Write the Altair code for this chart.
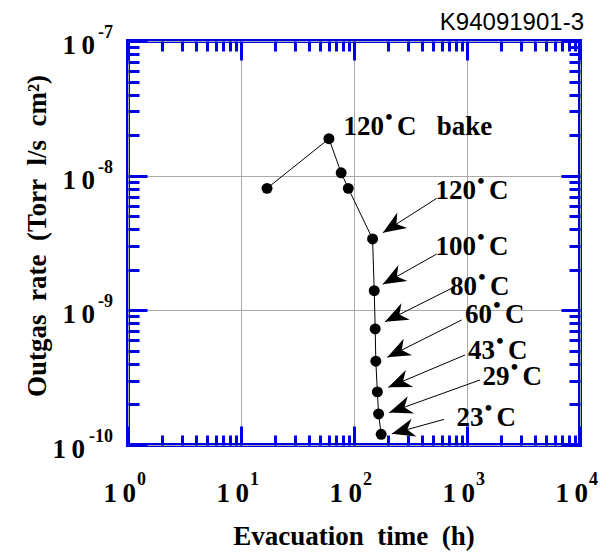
import math
import altair as alt
import pandas as pd

# ---------------- data ----------------
hours = [17, 60, 77, 89, 146, 151, 154, 156, 161, 165, 174]
rates = [8.05e-9, 1.88e-8, 1.05e-8, 8.05e-9, 3.39e-9, 1.40e-9,
         7.28e-10, 4.19e-10, 2.48e-10, 1.70e-10, 1.20e-10]

ann_num = ["120", "120", "100", "80", "60", "43", "29", "23"]
ann_rest = ["C\u00a0\u00a0\u00a0bake", "C", "C", "C", "C", "C", "C", "C"]
ann_x = [184, 1201, 1201, 1226, 1664, 1769, 2378, 1400]
ann_y = [2.0e-8, 6.71e-9, 2.58e-9, 1.30e-9, 8.01e-10, 4.35e-10, 2.79e-10, 1.39e-10]

arrow_x0 = [540, 540, 732, 898, 960, 1303, 626]
arrow_y0 = [6.79e-9, 2.62e-9, 1.458e-9, 8.48e-10, 4.66e-10, 3.04e-10, 1.55e-10]
arrow_x1 = [180, 180, 188, 197, 201, 205, 216]
arrow_y1 = [3.77e-9, 1.56e-9, 8.23e-10, 4.48e-10, 2.68e-10, 1.74e-10, 1.21e-10]

x_major = [1, 10, 100, 1000, 10000]
x_exp = ["0", "1", "2", "3", "4"]
y_major = [1e-7, 1e-8, 1e-9, 1e-10]
y_exp = ["-7", "-8", "-9", "-10"]
x_minor = [m * 10 ** k for k in range(4) for m in range(2, 10)]
y_minor = [m * 10.0 ** k for k in range(-10, -7) for m in range(2, 10)]
base_label = "1\u20090"

x_title = "Evacuation\u00a0\u00a0time\u00a0\u00a0(h)"
y_title = "Outgas\u00a0\u00a0rate\u00a0\u00a0(Torr\u00a0\u00a0l/s\u00a0\u00a0cm\u00b2)"
tag = "K94091901-3"

# ---------------- layout / style ----------------
W, H = 452, 404
BLUE = "#0000e6"
SERIF = "Liberation Serif"
XS = alt.Scale(type="log", domain=[1, 1e4], nice=False)
YS = alt.Scale(type="log", domain=[1e-10, 1e-7], nice=False)


def px(v):
    return W * math.log10(v) / 4


def py(v):
    return H * (-7 - math.log10(v)) / 3


angles = [
    (math.degrees(math.atan2(px(b) - px(a), -(py(d) - py(c)))) + 360) % 360
    for a, c, b, d in zip(arrow_x0, arrow_y0, arrow_x1, arrow_y1)
]

pts = pd.DataFrame({"h": hours, "r": rates})
ann = pd.DataFrame({"x": ann_x, "y": ann_y, "num": ann_num, "rest": ann_rest})
arr = pd.DataFrame({"x0": arrow_x0, "y0": arrow_y0, "x1": arrow_x1,
                    "y1": arrow_y1, "ang": angles})
xl = pd.DataFrame({"v": x_major, "e": x_exp, "b": [base_label] * 5})
yl = pd.DataFrame({"v": y_major, "e": y_exp, "b": [base_label] * 4})


def tick_axis(orient, offset, values, size):
    return alt.Axis(orient=orient, offset=offset, values=values, tickSize=size,
                    tickWidth=3, tickColor=BLUE, labels=False, domain=False,
                    grid=False, title="")


grid_x = alt.Axis(values=x_major, grid=True, gridColor="#aaaaaa", gridWidth=1,
                  ticks=False, labels=False, domain=False, title="")
grid_y = alt.Axis(values=y_major, grid=True, gridColor="#aaaaaa", gridWidth=1,
                  ticks=False, labels=False, domain=False, title="")

line = alt.Chart(pts).mark_line(color="black", strokeWidth=1).encode(
    x=alt.X("h:Q", scale=XS, axis=grid_x),
    y=alt.Y("r:Q", scale=YS, axis=grid_y),
)
points = alt.Chart(pts).mark_circle(color="black", size=120, opacity=1).encode(
    x=alt.X("h:Q", scale=XS, axis=tick_axis("top", -H, x_major, 19)),
    y=alt.Y("r:Q", scale=YS, axis=tick_axis("right", -W, y_major, 19)),
)
arrows = alt.Chart(arr).mark_rule(color="black", strokeWidth=1).encode(
    x=alt.X("x0:Q", scale=XS, axis=tick_axis("top", -H, x_minor, 10)),
    y=alt.Y("y0:Q", scale=YS, axis=tick_axis("right", -W, y_minor, 11)),
    x2="x1:Q",
    y2="y1:Q",
)
heads = alt.Chart(arr).mark_point(
    shape="M0,0 L0.4,1 L0,0.7 L-0.4,1 Z", filled=True, color="black",
    opacity=1, size=2116, strokeWidth=0,
).encode(
    x=alt.X("x1:Q", scale=XS, axis=tick_axis("bottom", -H, x_major, 19)),
    y=alt.Y("y1:Q", scale=YS, axis=tick_axis("left", -W, y_major, 19)),
    angle=alt.Angle("ang:Q", scale=None),
)
num_txt = alt.Chart(ann).mark_text(
    font=SERIF, fontWeight="bold", fontSize=27, align="right",
    baseline="alphabetic", color="black",
).encode(
    x=alt.X("x:Q", scale=XS, axis=tick_axis("bottom", -H, x_minor, 10)),
    y=alt.Y("y:Q", scale=YS, axis=tick_axis("left", -W, y_minor, 11)),
    text="num:N",
)
dot_txt = alt.Chart(ann).mark_text(
    font=SERIF, fontWeight="bold", fontSize=21, align="center",
    baseline="alphabetic", dx=5, dy=-11, color="black", text="\u2022",
).encode(
    x=alt.X("x:Q", scale=XS, axis=None),
    y=alt.Y("y:Q", scale=YS, axis=None),
)
rest_txt = alt.Chart(ann).mark_text(
    font=SERIF, fontWeight="bold", fontSize=27, align="left",
    baseline="alphabetic", dx=13, color="black",
).encode(
    x=alt.X("x:Q", scale=XS, axis=None),
    y=alt.Y("y:Q", scale=YS, axis=None),
    text="rest:N",
)

# tick labels
xb = alt.Chart(xl).mark_text(font=SERIF, fontWeight="bold", fontSize=27,
                             align="right", baseline="alphabetic", dx=8,
                             color="black").encode(
    x=alt.X("v:Q", scale=XS, axis=None), y=alt.value(H + 57), text="b:N")
xs = alt.Chart(xl).mark_text(font=SERIF, fontWeight="bold", fontSize=18,
                             align="left", baseline="alphabetic", dx=9,
                             color="black").encode(
    x=alt.X("v:Q", scale=XS, axis=None), y=alt.value(H + 40), text="e:N")
yb1 = alt.Chart(yl.iloc[:3]).mark_text(font=SERIF, fontWeight="bold", fontSize=27,
                                       align="right", baseline="alphabetic", dy=13,
                                       color="black").encode(
    x=alt.value(-33), y=alt.Y("v:Q", scale=YS, axis=None), text="b:N")
yb2 = alt.Chart(yl.iloc[3:]).mark_text(font=SERIF, fontWeight="bold", fontSize=27,
                                       align="right", baseline="alphabetic", dy=13,
                                       color="black").encode(
    x=alt.value(-43), y=alt.Y("v:Q", scale=YS, axis=None), text="b:N")
ys = alt.Chart(yl).mark_text(font=SERIF, fontWeight="bold", fontSize=18,
                             align="right", baseline="alphabetic", dy=-3,
                             color="black").encode(
    x=alt.value(-15), y=alt.Y("v:Q", scale=YS, axis=None), text="e:N")

xt = alt.Chart(pd.DataFrame({"t": [x_title]})).mark_text(
    font=SERIF, fontWeight="bold", fontSize=27, align="center",
    baseline="alphabetic", color="black").encode(
    x=alt.value(W / 2), y=alt.value(H + 100), text="t:N")
yt = alt.Chart(pd.DataFrame({"t": [y_title]})).mark_text(
    font=SERIF, fontWeight="bold", fontSize=27, align="center",
    baseline="middle", angle=270, color="black").encode(
    x=alt.value(-90), y=alt.value(H / 2 - 7), text="t:N")
tg = alt.Chart(pd.DataFrame({"t": [tag]})).mark_text(
    font="Liberation Sans", fontSize=24, align="right",
    baseline="alphabetic", color="black").encode(
    x=alt.value(W + 4), y=alt.value(-11), text="t:N")

chart = alt.layer(
    line, points, arrows, heads, num_txt, dot_txt, rest_txt,
    xb, xs, yb1, yb2, ys, xt, yt, tg,
).resolve_axis(x="independent", y="independent").properties(
    width=W, height=H,
    autosize=alt.AutoSizeParams(type="none"),
    padding={"left": 120, "top": 33, "right": 20, "bottom": 107},
).configure_view(stroke=BLUE, strokeWidth=4)

chart.save("out.html", embed_options={"renderer": "svg", "actions": False})
